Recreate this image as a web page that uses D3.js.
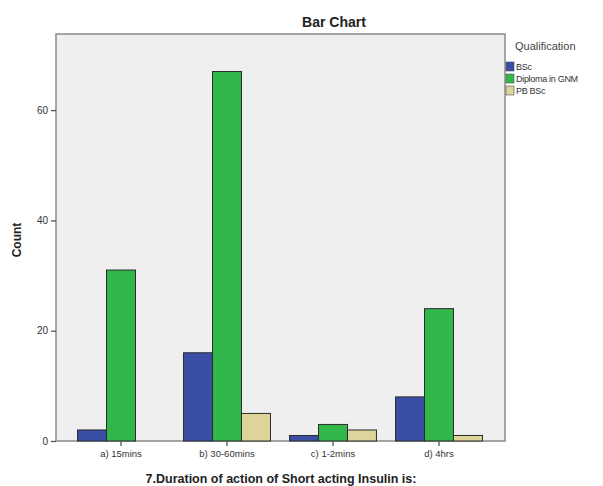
<!DOCTYPE html>
<html>
<head>
<meta charset="utf-8">
<script src="https://cdn.jsdelivr.net/npm/d3@7"></script>
<style>
  body { margin: 0; background: #fff; }
  text { font-family: Arial, "Liberation Sans", sans-serif; }
</style>
</head>
<body>
<div id="chart"></div>
<script>

// data
const categories = ["a) 15mins", "b) 30-60mins", "c) 1-2mins", "d) 4hrs"];
const series = ["BSc", "Diploma in GNM", "PB BSc"];
const bscValues = [2, 16, 1, 8];
const gnmValues = [31, 67, 3, 24];
const pbValues = [0, 5, 2, 1];
const yTicks = [0, 20, 40, 60];

const colors = ["#3a4ea6", "#32b84a", "#dcd49a"];

const table = categories.map((c, i) => ({
    group: c,
    "BSc": bscValues[i],
    "Diploma in GNM": gnmValues[i],
    "PB BSc": pbValues[i]
}));

const W = 603, H = 486;
const box = {left: 56, right: 505, top: 34, bottom: 441};

const svg = d3.select("#chart").append("svg")
    .attr("width", W)
    .attr("height", H);

// plot background
svg.append("rect")
    .attr("x", box.left)
    .attr("y", box.top)
    .attr("width", box.right - box.left)
    .attr("height", box.bottom - box.top)
    .attr("fill", "#efefef")
    .attr("stroke", "#8a8a8a")
    .attr("stroke-width", 1.5);

const x = d3.scaleBand()
    .domain(categories)
    .range([68, 492])
    .paddingInner(0.18)
    .paddingOuter(0.09);

const xSub = d3.scaleBand()
    .domain(series)
    .range([0, x.bandwidth()]);

const y = d3.scaleLinear()
    .domain([0, 73.8])
    .range([box.bottom, box.top]);

const color = d3.scaleOrdinal().domain(series).range(colors);

// bars
svg.append("g")
    .selectAll("g")
    .data(table)
    .join("g")
    .attr("transform", d => `translate(${x(d.group)},0)`)
    .selectAll("rect")
    .data(d => series.map(k => ({key: k, value: d[k]})).filter(e => e.value > 0))
    .join("rect")
    .attr("x", d => xSub(d.key))
    .attr("y", d => y(d.value))
    .attr("width", xSub.bandwidth())
    .attr("height", d => y(0) - y(d.value))
    .attr("fill", d => color(d.key))
    .attr("stroke", "#2b2b2b")
    .attr("stroke-width", 1);

// y axis
const yAxis = svg.append("g")
    .attr("transform", `translate(${box.left},0)`)
    .call(d3.axisLeft(y).tickValues(yTicks).tickSize(5).tickPadding(3).tickFormat(d3.format("d")));
yAxis.select(".domain").remove();
yAxis.selectAll("line").attr("stroke", "#555").attr("stroke-width", 1.3);
yAxis.selectAll("text").attr("font-size", 10).attr("fill", "#333");

// x axis
const xAxis = svg.append("g")
    .attr("transform", `translate(0,${box.bottom})`)
    .call(d3.axisBottom(x).tickSize(5).tickPadding(4));
xAxis.select(".domain").remove();
xAxis.selectAll("line").attr("stroke", "#555").attr("stroke-width", 1.3);
xAxis.selectAll("text").attr("font-size", 9.5).attr("fill", "#333");

// titles
svg.append("text")
    .attr("x", 334)
    .attr("y", 27)
    .attr("text-anchor", "middle")
    .attr("font-size", 14)
    .attr("font-weight", "bold")
    .attr("fill", "#222")
    .text("Bar Chart");

svg.append("text")
    .attr("transform", "translate(21,240) rotate(-90)")
    .attr("text-anchor", "middle")
    .attr("font-size", 12)
    .attr("font-weight", "bold")
    .attr("fill", "#222")
    .text("Count");

svg.append("text")
    .attr("x", 281)
    .attr("y", 483)
    .attr("text-anchor", "middle")
    .attr("font-size", 12.5)
    .attr("font-weight", "bold")
    .attr("fill", "#222")
    .text("7.Duration of action of Short acting Insulin is:");

// legend
svg.append("text")
    .attr("x", 515)
    .attr("y", 50)
    .attr("font-size", 11)
    .attr("fill", "#444")
    .text("Qualification");

const legend = svg.append("g")
    .selectAll("g")
    .data(series)
    .join("g")
    .attr("transform", (d, i) => `translate(506,${62 + i * 12})`);

legend.append("rect")
    .attr("width", 8)
    .attr("height", 9)
    .attr("fill", d => color(d))
    .attr("stroke", "#555")
    .attr("stroke-width", 0.6);

legend.append("text")
    .attr("x", 10)
    .attr("y", 8)
    .attr("font-size", 9)
    .attr("letter-spacing", -0.3)
    .attr("fill", "#333")
    .text(d => d);

</script>
</body>
</html>
